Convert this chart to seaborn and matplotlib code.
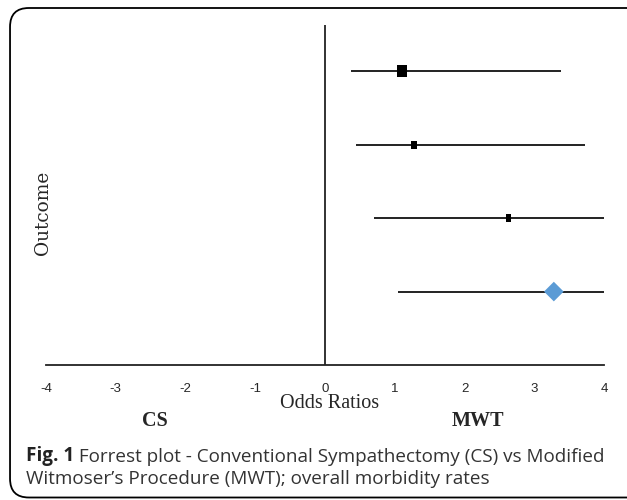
import numpy as np
import pandas as pd
import seaborn as sns
import matplotlib.pyplot as plt
from matplotlib.patches import FancyBboxPatch

# forest plot values (odds ratios with CI), top row first
rows = [4, 3, 2, 1]
odds = [1.10, 1.28, 2.63, 3.28]
lower = [0.37, 0.45, 0.70, 1.05]
upper = [3.38, 3.72, 4.00, 4.00]
kind = ["study1", "study2", "study3", "overall"]
xticks = [-4, -3, -2, -1, 0, 1, 2, 3, 4]

df = pd.DataFrame({"row": rows, "odds": odds, "lo": lower, "hi": upper, "kind": kind})

sns.set_style("white")

fig = plt.figure(figsize=(6.27, 5.0), dpi=100)
ax = fig.add_axes([0.0734, 0.27, 0.89, 0.68])

# rounded outer frame (right edge runs off the picture)
frame = FancyBboxPatch((0.016, 0.005), 1.05, 0.979, boxstyle="round,pad=0,rounding_size=0.03",
                       transform=fig.transFigure, fill=False, edgecolor="black", linewidth=1.3,
                       mutation_aspect=627/500)
fig.patches.append(frame)

# CI lines
ax.hlines(df["row"], df["lo"], df["hi"], color="#222222", linewidth=1.4, zorder=2)

# markers
rect_big = [(-0.42, -0.5), (0.42, -0.5), (0.42, 0.5), (-0.42, 0.5)]
rect_small = [(-0.36, -0.5), (0.36, -0.5), (0.36, 0.5), (-0.36, 0.5)]
markers = {"study1": rect_big, "study2": rect_small, "study3": rect_small, "overall": "D"}
sizes = {"study1": 76, "study2": 34, "study3": 34, "overall": 100}
colors = {"study1": "black", "study2": "black", "study3": "black", "overall": "#5B9BD5"}
for k in kind:
    sub = df[df["kind"] == k]
    sns.scatterplot(data=sub, x="odds", y="row", marker=markers[k], s=sizes[k],
                    color=colors[k], edgecolor="none", linewidth=0, ax=ax, zorder=3)

# line of no effect
ax.axvline(0, color="#222222", linewidth=1.3, zorder=1)

ax.set_xlim(-4, 4)
ax.set_ylim(0, 4.63)
ax.set_xticks(xticks)
ax.set_xticklabels([str(t) for t in xticks], fontsize=9.5, family="Liberation Sans")
ax.set_yticks([])
ax.set_xlabel("")
ax.set_ylabel("")
for s in ["left", "right", "top"]:
    ax.spines[s].set_visible(False)
ax.spines["bottom"].set_color("#222222")
ax.spines["bottom"].set_linewidth(1.3)
ax.tick_params(axis="x", direction="out", length=4, width=1.1, color="#222222", pad=9)

fig.text(0.526, 0.193, "Odds Ratios", ha="center", va="center", family="Liberation Serif", fontsize=14.5)
fig.text(0.247, 0.158, "CS", ha="center", va="center", family="Liberation Serif", fontsize=14.5, weight="bold")
fig.text(0.763, 0.158, "MWT", ha="center", va="center", family="Liberation Serif", fontsize=14.5, weight="bold")
fig.text(0.069, 0.574, "Outcome", rotation=90, ha="center", va="center", family="DejaVu Serif", fontsize=13.3)

# caption
t1 = fig.text(0.041, 0.079, "Fig. 1", ha="left", va="baseline", family="Open Sans",
              fontsize=13.6, weight="bold", color="#222222")
ax.annotate(" Forrest plot - Conventional Sympathectomy (CS) vs Modified", xy=(1, 0), xycoords=t1,
            va="bottom", ha="left", family="Open Sans", fontsize=13.6, color="#333333",
            annotation_clip=False)
fig.text(0.041, 0.032, "Witmoser\u2019s Procedure (MWT); overall morbidity rates", ha="left", va="baseline",
         family="Open Sans", fontsize=13.6, color="#333333")

plt.savefig("out.png", dpi=100)
